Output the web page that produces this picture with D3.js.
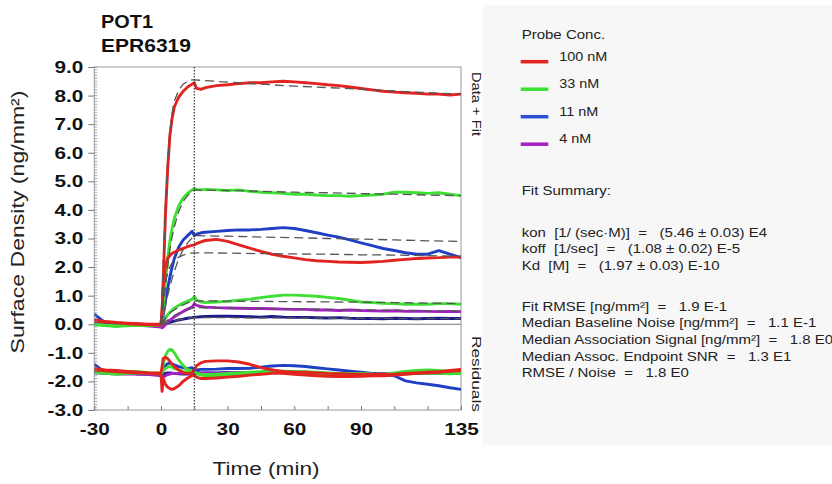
<!DOCTYPE html>
<html>
<head>
  <meta charset="utf-8" />
  <title>POT1 EPR6319 binding kinetics</title>
  <script src="https://cdn.jsdelivr.net/npm/d3@7"></script>
  <style>
    body { margin: 0; background: #fff; }
    svg { font-family: Arial, "Liberation Sans", sans-serif; }
    .pre { white-space: pre; }
  </style>
</head>
<body>
<svg id="chart" width="832" height="484"></svg>
<script>
// time points (min) shared by data and residual traces
var times = [-30, -25, -20, -15, -10, -5, 0, 0.5, 1, 2, 3, 4, 5, 6, 8, 10, 12, 14, 15, 16, 18,
  20, 25, 30, 35, 40, 45, 50, 55, 60, 65, 70, 75, 80, 85, 90, 95, 100, 105, 110, 115, 120, 125, 130, 135];

// measured surface density (ng/mm2)
var red100a = [0.15, 0.1, 0.06, 0.04, 0.02, 0.0, 0.0, 0.4, 1.5, 3.8, 5.4, 6.6, 7.2, 7.6, 7.95, 8.15, 8.3, 8.4, 8.45, 8.25, 8.22,
  8.28, 8.35, 8.38, 8.42, 8.45, 8.45, 8.48, 8.5, 8.48, 8.45, 8.42, 8.38, 8.35, 8.3, 8.25, 8.2, 8.15, 8.12, 8.1, 8.08, 8.05, 8.05, 8.02, 8.05];
var green33a = [0.0, -0.03, -0.05, -0.02, -0.03, -0.05, -0.02, 0.1, 0.5, 1.5, 2.3, 2.9, 3.35, 3.7, 4.15, 4.42, 4.58, 4.7, 4.75, 4.72, 4.7,
  4.72, 4.7, 4.68, 4.7, 4.65, 4.62, 4.6, 4.58, 4.55, 4.55, 4.52, 4.5, 4.5, 4.48, 4.5, 4.52, 4.55, 4.62, 4.62, 4.6, 4.58, 4.6, 4.55, 4.5];
var blue11a = [0.35, 0.05, 0.0, -0.02, 0.0, -0.03, -0.02, 0.05, 0.3, 0.8, 1.25, 1.65, 2.0, 2.3, 2.7, 2.95, 3.1, 3.25, 3.1, 3.15, 3.2,
  3.22, 3.25, 3.28, 3.3, 3.3, 3.32, 3.35, 3.38, 3.35, 3.28, 3.2, 3.12, 3.05, 2.95, 2.85, 2.75, 2.65, 2.58, 2.5, 2.45, 2.45, 2.58, 2.45, 2.33];
var red100b = [0.12, 0.08, 0.05, 0.02, 0.0, -0.02, -0.03, 0.5, 1.3, 2.05, 2.3, 2.4, 2.48, 2.52, 2.6, 2.65, 2.72, 2.76, 2.78, 2.82, 2.88,
  2.93, 2.97, 2.9, 2.78, 2.66, 2.55, 2.45, 2.38, 2.32, 2.26, 2.22, 2.2, 2.18, 2.17, 2.16, 2.18, 2.2, 2.24, 2.27, 2.3, 2.32, 2.33, 2.35, 2.35];
var green33b = [-0.02, -0.05, -0.08, -0.05, -0.03, -0.05, -0.03, 0.02, 0.1, 0.22, 0.33, 0.42, 0.5, 0.56, 0.66, 0.74, 0.81, 0.87, 0.98, 0.85, 0.78,
  0.76, 0.78, 0.8, 0.84, 0.88, 0.93, 0.98, 1.02, 1.02, 1.0, 0.98, 0.94, 0.9, 0.84, 0.78, 0.76, 0.73, 0.72, 0.7, 0.7, 0.7, 0.72, 0.72, 0.7];
var purple4 = [0.02, 0.0, -0.02, -0.03, -0.04, -0.06, -0.1, -0.12, -0.1, -0.02, 0.06, 0.14, 0.2, 0.26, 0.36, 0.45, 0.53, 0.6, 0.72, 0.66, 0.62,
  0.6, 0.58, 0.57, 0.56, 0.55, 0.55, 0.54, 0.53, 0.52, 0.52, 0.5, 0.5, 0.48, 0.5, 0.48, 0.47, 0.46, 0.47, 0.45, 0.46, 0.45, 0.44, 0.45, 0.44];
var navy11b = [0.05, 0.02, 0.0, -0.02, -0.02, -0.03, -0.04, -0.04, -0.02, 0.01, 0.04, 0.07, 0.09, 0.11, 0.15, 0.18, 0.21, 0.23, 0.25, 0.25, 0.26,
  0.27, 0.28, 0.28, 0.27, 0.26, 0.25, 0.27, 0.25, 0.24, 0.24, 0.23, 0.22, 0.23, 0.21, 0.2, 0.2, 0.19, 0.21, 0.2, 0.19, 0.2, 0.21, 0.2, 0.2];

// fitted curves (dashed)
var fitTimes = [0, 1, 2, 3, 4, 5, 6, 8, 10, 12, 14, 15, 30, 45, 60, 75, 90, 105, 120, 135];
var fitRedA = [0, 2.0, 4.2, 5.7, 6.7, 7.4, 7.8, 8.2, 8.4, 8.5, 8.55, 8.55, 8.47, 8.4, 8.33, 8.28, 8.22, 8.16, 8.1, 8.05];
var fitGreenA = [0, 0.6, 1.3, 2.0, 2.6, 3.05, 3.4, 3.95, 4.3, 4.5, 4.65, 4.7, 4.68, 4.65, 4.62, 4.6, 4.57, 4.55, 4.52, 4.5];
var fitBlueA = [0, 0.3, 0.65, 1.0, 1.3, 1.6, 1.85, 2.3, 2.62, 2.85, 3.02, 3.1, 3.08, 3.05, 3.03, 3.0, 2.98, 2.95, 2.92, 2.9];
var fitRedB = [0, 0.9, 1.5, 1.8, 2.0, 2.15, 2.25, 2.35, 2.42, 2.47, 2.5, 2.5, 2.49, 2.47, 2.46, 2.45, 2.43, 2.42, 2.4, 2.38];
var fitGreenB = [0, 0.1, 0.2, 0.3, 0.38, 0.45, 0.5, 0.6, 0.68, 0.75, 0.8, 0.82, 0.81, 0.8, 0.79, 0.78, 0.77, 0.76, 0.74, 0.72];
var fitPurple = [0, 0.05, 0.1, 0.15, 0.2, 0.25, 0.3, 0.38, 0.45, 0.51, 0.56, 0.58, 0.57, 0.55, 0.54, 0.52, 0.5, 0.49, 0.47, 0.46];
var fitNavy = [0, 0.02, 0.04, 0.06, 0.08, 0.1, 0.12, 0.15, 0.18, 0.2, 0.22, 0.23, 0.23, 0.22, 0.22, 0.21, 0.21, 0.2, 0.2, 0.2];

// residuals, drawn with an offset below the data
var resRedA = [-1.6, -1.63, -1.66, -1.68, -1.7, -1.72, -1.75, -2.35, -1.9, -2.1, -2.2, -2.25, -2.28, -2.25, -2.15, -2.0, -1.88, -1.8, -1.78, -1.85, -1.9,
  -1.9, -1.88, -1.85, -1.82, -1.78, -1.75, -1.72, -1.72, -1.75, -1.78, -1.8, -1.82, -1.83, -1.83, -1.82, -1.8, -1.8, -1.78, -1.75, -1.72, -1.7, -1.68, -1.65, -1.62];
var resRedB = [-1.55, -1.6, -1.62, -1.65, -1.68, -1.7, -1.7, -1.5, -1.2, -1.15, -1.2, -1.3, -1.4, -1.48, -1.6, -1.7, -1.72, -1.7, -1.6, -1.45, -1.35,
  -1.3, -1.28, -1.28, -1.32, -1.4, -1.52, -1.6, -1.65, -1.68, -1.68, -1.7, -1.72, -1.73, -1.75, -1.75, -1.76, -1.76, -1.75, -1.72, -1.7, -1.68, -1.66, -1.62, -1.58];
var resGreenA = [-1.62, -1.65, -1.68, -1.65, -1.66, -1.7, -1.72, -1.6, -1.4, -1.1, -0.95, -0.88, -0.9, -1.0, -1.25, -1.45, -1.58, -1.65, -1.68, -1.72, -1.78,
  -1.8, -1.8, -1.78, -1.75, -1.72, -1.7, -1.68, -1.68, -1.7, -1.72, -1.72, -1.75, -1.75, -1.73, -1.72, -1.74, -1.75, -1.7, -1.65, -1.62, -1.6, -1.62, -1.65, -1.68];
var resGreenB = [-1.7, -1.72, -1.75, -1.72, -1.7, -1.72, -1.74, -1.7, -1.62, -1.55, -1.5, -1.48, -1.5, -1.55, -1.6, -1.65, -1.68, -1.7, -1.65, -1.72, -1.75,
  -1.76, -1.75, -1.72, -1.7, -1.68, -1.66, -1.65, -1.64, -1.65, -1.66, -1.68, -1.7, -1.72, -1.74, -1.76, -1.77, -1.78, -1.76, -1.74, -1.72, -1.72, -1.72, -1.73, -1.72];
var resBlueA = [-1.4, -1.7, -1.72, -1.7, -1.7, -1.72, -1.74, -1.74, -1.6, -1.45, -1.38, -1.36, -1.38, -1.42, -1.48, -1.52, -1.55, -1.52, -1.62, -1.6, -1.58,
  -1.58, -1.57, -1.55, -1.55, -1.54, -1.5, -1.46, -1.44, -1.45, -1.48, -1.52, -1.56, -1.6, -1.64, -1.68, -1.72, -1.76, -1.8, -1.98, -2.05, -2.1, -2.15, -2.22, -2.28];
var resPurple = [-1.7, -1.72, -1.74, -1.73, -1.75, -1.76, -1.8, -1.86, -1.85, -1.8, -1.76, -1.74, -1.72, -1.72, -1.72, -1.71, -1.72, -1.7, -1.6, -1.68, -1.7,
  -1.7, -1.71, -1.7, -1.69, -1.7, -1.68, -1.6, -1.7, -1.72, -1.73, -1.72, -1.74, -1.73, -1.72, -1.73, -1.74, -1.72, -1.73, -1.72, -1.7, -1.71, -1.72, -1.7, -1.71];
var resNavy = [-1.68, -1.7, -1.72, -1.72, -1.73, -1.74, -1.75, -1.76, -1.75, -1.72, -1.7, -1.7, -1.71, -1.72, -1.73, -1.74, -1.74, -1.74, -1.72, -1.72, -1.71,
  -1.7, -1.7, -1.69, -1.7, -1.71, -1.7, -1.68, -1.69, -1.7, -1.72, -1.71, -1.73, -1.72, -1.74, -1.73, -1.72, -1.74, -1.73, -1.72, -1.71, -1.72, -1.7, -1.71, -1.7];

var yTicks = [-3, -2, -1, 0, 1, 2, 3, 4, 5, 6, 7, 8, 9];
var xTicks = [-30, -15, 0, 15, 30, 45, 60, 75, 90, 105, 120, 135];
var xTickLabels = [-30, 0, 30, 60, 90, 135];
var injectionEnd = 15;

var legendLabels = ["100 nM", "33 nM", "11 nM", "4 nM"];
var summaryTitle = "Fit Summary:";
var summaryLines = [
  "kon  [1/ (sec\u00b7M)]  =   (5.46 \u00b1 0.03) E4",
  "koff  [1/sec]  =   (1.08 \u00b1 0.02) E-5",
  "Kd  [M]  =   (1.97 \u00b1 0.03) E-10"
];
var qualityLines = [
  "Fit RMSE [ng/mm\u00b2]  =   1.9 E-1",
  "Median Baseline Noise [ng/mm\u00b2]  =   1.1 E-1",
  "Median Association Signal [ng/mm\u00b2]  =   1.8 E0",
  "Median Assoc. Endpoint SNR  =   1.3 E1",
  "RMSE / Noise  =   1.8 E0"
];

var colors = { red: "#e2231f", green: "#3ddf33", blue: "#1f40c4", navy: "#1c1a8c", purple: "#a51fc4" };
var legendColors = [colors.red, colors.green, "#2a4fd0", colors.purple];

var svg = d3.select("#chart");
var x = d3.scaleLinear().domain([-30, 135]).range([94.3, 461]);
var y = d3.scaleLinear().domain([-3, 9]).range([410, 67]);

// right-hand info panel
svg.append("rect").attr("x", 483).attr("y", 5).attr("width", 349).attr("height", 440).attr("fill", "#f7f7f7");

svg.append("defs").append("clipPath").attr("id", "plotclip")
  .append("rect").attr("x", x(-30)).attr("y", y(9)).attr("width", x(135) - x(-30)).attr("height", y(-3) - y(9));

// frame
svg.append("rect").attr("x", x(-30)).attr("y", y(9)).attr("width", x(135) - x(-30)).attr("height", y(-3) - y(9))
  .attr("fill", "none").attr("stroke", "#999").attr("stroke-width", 1);

var plot = svg.append("g").attr("clip-path", "url(#plotclip)");

plot.append("line").attr("x1", x(-30)).attr("x2", x(135)).attr("y1", y(0)).attr("y2", y(0))
  .attr("stroke", "#777").attr("stroke-width", 1);

var line = d3.line().x(function(d) { return x(d[0]); }).y(function(d) { return y(d[1]); });
function pairs(ts, vs) { return ts.map(function(t, i) { return [t, vs[i]]; }); }

function trace(ts, vs, color) {
  plot.append("path").datum(pairs(ts, vs)).attr("d", line)
    .attr("fill", "none").attr("stroke", color).attr("stroke-width", 2.9)
    .attr("stroke-linejoin", "round");
}

// residuals
trace(times, resNavy, colors.navy);
trace(times, resPurple, colors.purple);
trace(times, resBlueA, colors.blue);
trace(times, resGreenB, colors.green);
trace(times, resGreenA, colors.green);
trace(times, resRedB, colors.red);
trace(times, resRedA, colors.red);

// data
trace(times, navy11b, colors.navy);
trace(times, purple4, colors.purple);
trace(times, green33b, colors.green);
trace(times, blue11a, colors.blue);
trace(times, green33a, colors.green);
trace(times, red100b, colors.red);
trace(times, red100a, colors.red);

// fits
[fitNavy, fitPurple, fitGreenB, fitRedB, fitBlueA, fitGreenA, fitRedA].forEach(function(f) {
  plot.append("path").datum(pairs(fitTimes, f)).attr("d", line)
    .attr("fill", "none").attr("stroke", "#555").attr("stroke-width", 1.3)
    .attr("stroke-dasharray", "9,5");
});

// end of association
svg.append("line").attr("x1", x(injectionEnd)).attr("x2", x(injectionEnd)).attr("y1", y(9)).attr("y2", y(-3))
  .attr("stroke", "#333").attr("stroke-width", 1.2).attr("stroke-dasharray", "1.5,1.5");

// y minor ticks
var minor = svg.append("g");
d3.range(-30, 91).forEach(function(k) {
  var v = k / 10;
  minor.append("line").attr("x1", x(-30)).attr("x2", x(-30) + 3).attr("y1", y(v)).attr("y2", y(v))
    .attr("stroke", "#8a96a8").attr("stroke-width", 0.8);
});

var yAxis = svg.append("g").attr("transform", "translate(" + x(-30) + ",0)")
  .call(d3.axisLeft(y).tickValues(yTicks).tickSize(6).tickPadding(3)
    .tickFormat(function(d) { return d.toFixed(1); }));
yAxis.select(".domain").remove();
yAxis.selectAll("line").attr("stroke", "#777");
yAxis.selectAll("text").attr("font-size", 17).attr("font-weight", "bold").attr("fill", "#111")
  .attr("transform", "scale(1.22,1)").attr("font-family", "Arial, 'Liberation Sans', sans-serif");

var xAxis = svg.append("g").attr("transform", "translate(0," + y(-3) + ")")
  .call(d3.axisBottom(x).tickValues(xTicks).tickSize(-4).tickPadding(13)
    .tickFormat(function(d) { return xTickLabels.indexOf(d) >= 0 ? String(d) : ""; }));
xAxis.select(".domain").remove();
xAxis.selectAll("line").attr("stroke", "#777");
xAxis.selectAll("text").attr("font-size", 17).attr("font-weight", "bold").attr("fill", "#111")
  .attr("transform", "scale(1.22,1)").attr("font-family", "Arial, 'Liberation Sans', sans-serif");

function label(txt, attrs) {
  var t = svg.append("text").text(txt);
  Object.keys(attrs).forEach(function(k) { t.attr(k, attrs[k]); });
  return t;
}

// titles
label("POT1", { x: 101, y: 28, "font-size": 18, "font-weight": "bold", fill: "#111", textLength: 52, lengthAdjust: "spacingAndGlyphs" });
label("EPR6319", { x: 101, y: 52, "font-size": 18, "font-weight": "bold", fill: "#111", textLength: 90, lengthAdjust: "spacingAndGlyphs" });
label("Surface Density (ng/mm\u00b2)", { transform: "translate(24,222) rotate(-90)", "text-anchor": "middle",
  "font-size": 19, fill: "#222", textLength: 263, lengthAdjust: "spacingAndGlyphs" });
label("Time (min)", { x: 266, y: 475, "text-anchor": "middle", "font-size": 18, fill: "#222", textLength: 107, lengthAdjust: "spacingAndGlyphs" });
label("Data + Fit", { transform: "translate(472,104) rotate(90)", "text-anchor": "middle", "font-size": 13, fill: "#222", textLength: 64, lengthAdjust: "spacingAndGlyphs" });
label("Residuals", { transform: "translate(472,374) rotate(90)", "text-anchor": "middle", "font-size": 13, fill: "#222", textLength: 76, lengthAdjust: "spacingAndGlyphs" });

// legend
var panel = svg.append("g").attr("fill", "#222").attr("font-size", 12);
panel.append("text").attr("transform", "translate(521.7,39) scale(1.25,1)").text("Probe Conc.");
legendLabels.forEach(function(lab, i) {
  var ly = 61.7 + i * 27.5;
  panel.append("line").attr("x1", 520.7).attr("x2", 548.3).attr("y1", ly).attr("y2", ly)
    .attr("stroke", legendColors[i]).attr("stroke-width", 3.5);
  panel.append("text").attr("transform", "translate(559.3," + (ly - 1) + ") scale(1.2,1)").text(lab);
});

// fit summary
panel.append("text").attr("transform", "translate(521.7,195) scale(1.25,1)").text(summaryTitle);
summaryLines.forEach(function(s, i) {
  panel.append("text").attr("class", "pre").attr("transform", "translate(521.7," + (236.7 + i * 16.7) + ") scale(1.25,1)").text(s);
});
qualityLines.forEach(function(s, i) {
  panel.append("text").attr("class", "pre").attr("transform", "translate(521.7," + (310.7 + i * 16.65) + ") scale(1.25,1)").text(s);
});
</script>
</body>
</html>
